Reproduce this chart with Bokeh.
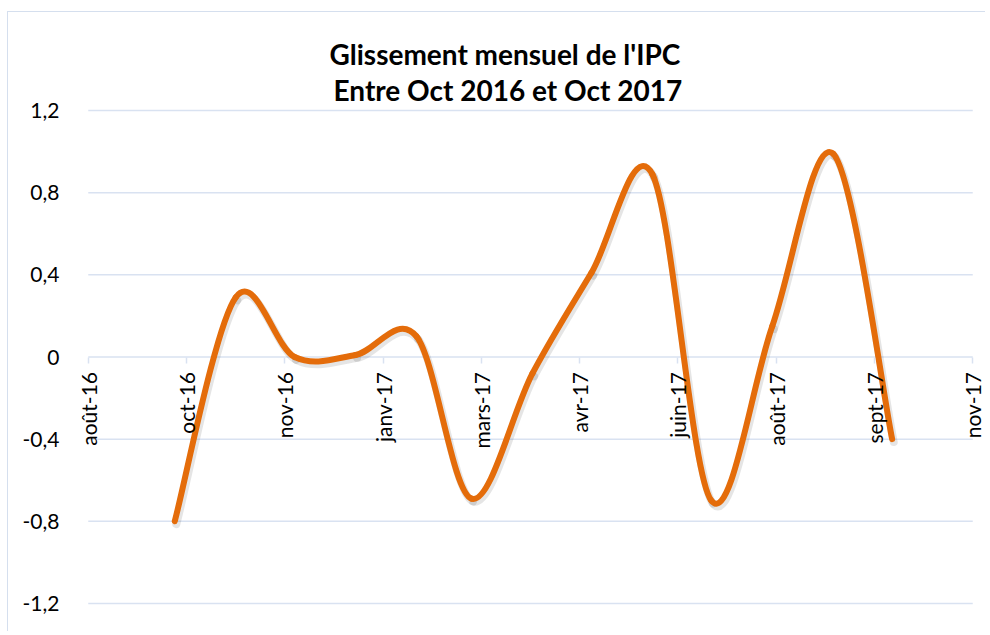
import numpy as np
import pandas as pd
from bokeh.plotting import figure
from bokeh.models import Range1d, FixedTicker, Title
from bokeh.embed import file_html
from bokeh.resources import INLINE

# ---- data ----
months = pd.date_range("2016-10-01", "2017-10-01", freq="MS")
values = [-0.80, 0.29, 0.00, 0.01, 0.10, -0.69, -0.08, 0.41, 0.89, -0.70, 0.15, 0.99, -0.40]

axis_start = "2016-08-18"
tick_step_days = 50
tick_labels = ["août-16", "oct-16", "nov-16", "janv-17", "mars-17", "avr-17",
               "juin-17", "août-17", "sept-17", "nov-17"]
y_ticks = [-1.2, -0.8, -0.4, 0, 0.4, 0.8, 1.2]
y_tick_labels = ["-1,2", "-0,8", "-0,4", "0", "0,4", "0,8", "1,2"]
title_lines = ["Glissement mensuel de l'IPC", "Entre Oct 2016 et Oct 2017"]


def to_ms(ts):
    return float(pd.Timestamp(ts).value // 10**6)


x = np.array([to_ms(m) for m in months])
y = np.array(values, dtype=float)

day_ms = 86400000.0
start_ms = to_ms(axis_start)
tick_ms = [start_ms + k * tick_step_days * day_ms for k in range(len(tick_labels))]
end_ms = tick_ms[-1]
pad_days = 7
pad_y = 0.02

# Excel-like smoothed line: cubic Bezier segments (Catmull-Rom, 1/6 tension)
n = len(x)
x0, y0, x1, y1, cx0, cy0, cx1, cy1 = ([] for _ in range(8))
for i in range(n - 1):
    ip = max(i - 1, 0)
    inn = min(i + 2, n - 1)
    x0.append(x[i]); y0.append(y[i])
    x1.append(x[i + 1]); y1.append(y[i + 1])
    cx0.append(x[i] + (x[i + 1] - x[ip]) / 6.0)
    cy0.append(y[i] + (y[i + 1] - y[ip]) / 6.0)
    cx1.append(x[i + 1] - (x[inn] - x[i]) / 6.0)
    cy1.append(y[i + 1] - (y[inn] - y[i]) / 6.0)
x0, y0, x1, y1, cx0, cy0, cx1, cy1 = map(np.array, (x0, y0, x1, y1, cx0, cy0, cx1, cy1))

grid_color = "#D9E2F1"
line_color = "#E46C0A"

p = figure(width=978, height=620, x_axis_type="datetime",
           x_range=Range1d(start_ms - pad_days * day_ms, end_ms + pad_days * day_ms),
           y_range=Range1d(y_ticks[0] - pad_y, y_ticks[-1] + pad_y),
           output_backend="svg", toolbar_location=None,
           min_border_left=66, min_border_right=0,
           min_border_top=94, min_border_bottom=25)
p.margin = (12, 0, 0, 8)
p.styles = {"box-shadow": "-1px -1px 0 0 #D5DFEE"}
p.outline_line_color = None
p.background_fill_color = "white"
p.border_fill_color = "white"

p.xgrid.visible = False
p.ygrid.visible = False

# horizontal gridlines (the one at 0 doubles as the category axis line)
p.segment(x0=[start_ms] * len(y_ticks), y0=y_ticks, x1=[end_ms] * len(y_ticks), y1=y_ticks,
          line_color=grid_color, line_width=1.5)

# x axis crossing at 0
p.xaxis.fixed_location = 0
p.xaxis.ticker = FixedTicker(ticks=tick_ms)
p.xaxis.major_label_overrides = dict(zip(tick_ms, tick_labels))
p.xaxis.major_label_orientation = np.pi / 2
p.xaxis.axis_line_color = None
p.xaxis.major_tick_line_color = grid_color
p.xaxis.major_tick_line_width = 1.5
p.xaxis.major_tick_in = 0
p.xaxis.major_tick_out = 6
p.xaxis.minor_tick_line_color = None
p.xaxis.major_label_standoff = 9
p.xaxis.major_label_text_font = "Lato"
p.xaxis.major_label_text_font_size = "21px"
p.xaxis.major_label_text_color = "#000000"

p.yaxis.ticker = FixedTicker(ticks=y_ticks)
p.yaxis.major_label_overrides = dict(zip(y_ticks, y_tick_labels))
p.yaxis.axis_line_color = None
p.yaxis.major_tick_line_color = None
p.yaxis.minor_tick_line_color = None
p.yaxis.major_label_standoff = 9
p.yaxis.major_label_text_font = "Lato"
p.yaxis.major_label_text_font_size = "21px"
p.yaxis.major_label_text_color = "#000000"

# soft drop shadow under the line (same curve, nudged down-right)
sdx, sdy = 0.8 * day_ms, -0.014
p.bezier(x0=x0 + sdx, y0=y0 + sdy, x1=x1 + sdx, y1=y1 + sdy,
         cx0=cx0 + sdx, cy0=cy0 + sdy, cx1=cx1 + sdx, cy1=cy1 + sdy,
         line_color="#000000", line_alpha=0.10, line_width=8, line_cap="round")
p.bezier(x0=x0, y0=y0, x1=x1, y1=y1, cx0=cx0, cy0=cy0, cx1=cx1, cy1=cy1,
         line_color=line_color, line_width=6, line_cap="round")

# two-line title (second line nearest the plot)
for txt, off in zip(reversed(title_lines), [259, 255]):
    p.add_layout(Title(text=txt, align="left", offset=off, standoff=0,
                       text_font="Lato", text_font_style="bold",
                       text_font_size="28px", text_color="#000000"), "above")

open("out.html", "w").write(file_html(p, INLINE))
